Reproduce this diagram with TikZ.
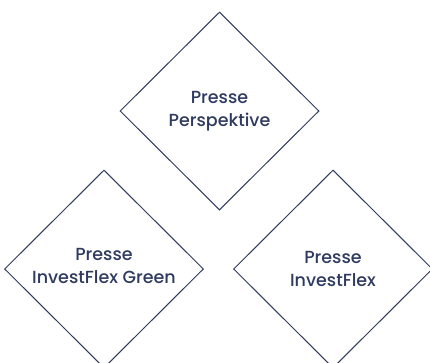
\documentclass[tikz,border=0pt]{standalone}
\usepackage{fontspec}
\setmainfont{Poppins}[BoldFont={Poppins Medium}]
\usetikzlibrary{shapes.geometric}
\definecolor{navy}{HTML}{2E3A5E}
\tikzset{
  dia/.style={diamond, draw=navy, line width=1pt, minimum width=199pt, minimum height=198pt, inner sep=0pt},
  lbl/.style={text=navy, font=\fontsize{17.5}{23}\selectfont\bfseries, align=center}
}
\begin{document}
\begin{tikzpicture}[x=1pt,y=-1pt]
\useasboundingbox (0,0) rectangle (430,362);
\clip (0,0) rectangle (430,362);
\node[dia] (top) at (219.5,111) {};
\node[dia] (bl) at (104,269) {};
\node[dia] (br) at (333,269) {};
\node[lbl] (ttop) at (219.5,111) {Presse\\Perspektive};
\node[lbl] (tbl) at (104,266) {Presse\\InvestFlex Green};
\node[lbl] (tbr) at (333,269) {Presse\\InvestFlex};
\end{tikzpicture}
\end{document}
